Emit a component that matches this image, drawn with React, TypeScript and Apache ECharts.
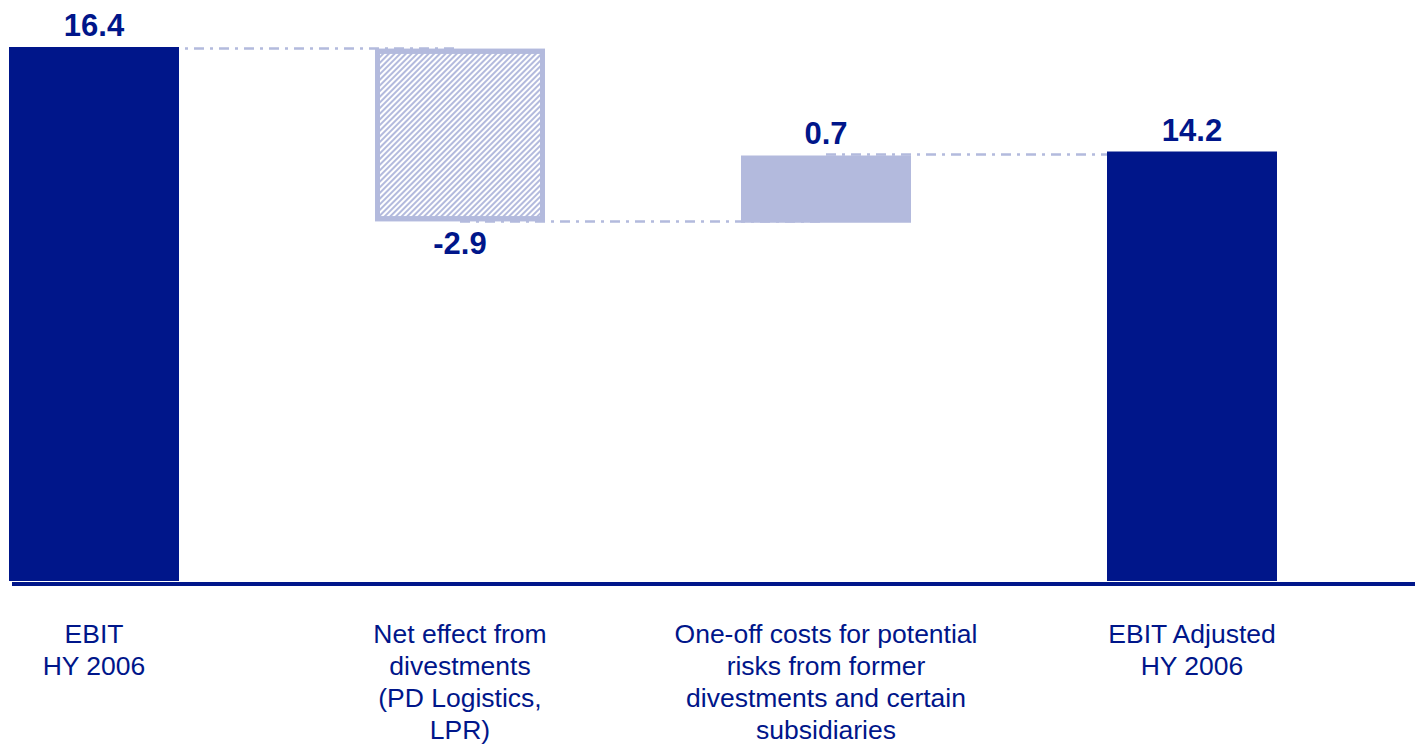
import React, { useEffect, useRef } from "react";
import * as echarts from "echarts";

const categories = [
  "EBIT\nHY 2006",
  "Net effect from\ndivestments\n(PD Logistics,\nLPR)",
  "One-off costs for potential\nrisks from former\ndivestments and certain\nsubsidiaries",
  "EBIT Adjusted\nHY 2006",
];
// Value labels as printed on the chart
const valueLabels = ["16.4", "-2.9", "0.7", "14.2"];
// Bar bottoms and tops as drawn in the picture (the chart is not to scale)
const barBottoms = [0, 11.05, 11.0, 0];
const barTops = [16.4, 16.35, 13.07, 13.19];
// Connector levels between consecutive bars
const connectorLevels = [16.35, 11.06, 13.1];

const NAVY = "#00168A";
const LIGHT = "#B3BADD";
const FONT = "'Liberation Sans', Arial, sans-serif";

export default function App() {
  const ref = useRef<HTMLDivElement>(null);
  useEffect(() => {
    if (!ref.current) return;
    const chart = echarts.init(ref.current, null, { renderer: "svg" });
    const kinds = ["total", "hatch", "light", "total"];
    const visible = barTops.map((t, i) => {
      const v = +(t - barBottoms[i]).toFixed(3);
      const k = kinds[i];
      const item: any = {
        value: v,
        label: {
          show: true,
          position: k === "hatch" ? "bottom" : "top",
          distance: k === "hatch" ? 7 : 6,
          formatter: () => valueLabels[i],
        },
      };
      if (k === "total") item.itemStyle = { color: NAVY };
      if (k === "light") item.itemStyle = { color: LIGHT };
      if (k === "hatch")
        item.itemStyle = {
          color: "#ffffff",
          borderColor: LIGHT,
          borderWidth: 5,
          decal: {
            symbol: "rect",
            color: LIGHT,
            dashArrayX: [1, 0],
            dashArrayY: [2, 2],
            rotation: -Math.PI / 4,
          },
        };
      return item;
    });
    const markData = connectorLevels.map((lvl, i) => [
      { coord: [i, lvl] },
      { coord: [i + 1, lvl] },
    ]);
    chart.setOption({
      animation: false,
      grid: { left: 94, right: 223, top: 47, bottom: 162, containLabel: false },
      xAxis: {
        type: "category",
        data: categories,
        boundaryGap: false,
        axisLine: { show: false },
        axisTick: { show: false },
        splitLine: { show: false },
        axisLabel: {
          interval: 0,
          margin: 37,
          color: NAVY,
          fontSize: 26.5,
          lineHeight: 32,
          fontFamily: FONT,
          align: "center",
        },
      },
      yAxis: {
        type: "value",
        min: 0,
        max: 16.4,
        show: false,
        splitLine: { show: false },
      },
      series: [
        {
          type: "bar",
          stack: "w",
          barWidth: 170,
          clip: false,
          z: 2,
          itemStyle: { color: "transparent" },
          data: barBottoms,
          silent: true,
          markLine: {
            z: 1,
            silent: true,
            symbol: "none",
            label: { show: false },
            lineStyle: { color: LIGHT, width: 2.5, type: [10, 6, 3, 6] },
            data: markData,
          },
        },
        {
          type: "bar",
          stack: "w",
          barWidth: 170,
          clip: false,
          z: 3,
          label: {
            color: NAVY,
            fontSize: 31,
            fontWeight: "bold",
            fontFamily: FONT,
          },
          data: visible,
        },
      ],
      graphic: [
        {
          type: "rect",
          shape: { x: 12, y: 582, width: 1403, height: 4 },
          style: { fill: NAVY },
          z: 10,
        },
      ],
    });
    return () => chart.dispose();
  }, []);
  return (
    <div
      ref={ref}
      style={{ position: "fixed", left: 0, top: 0, width: 1415, height: 746, background: "#fff" }}
    />
  );
}
